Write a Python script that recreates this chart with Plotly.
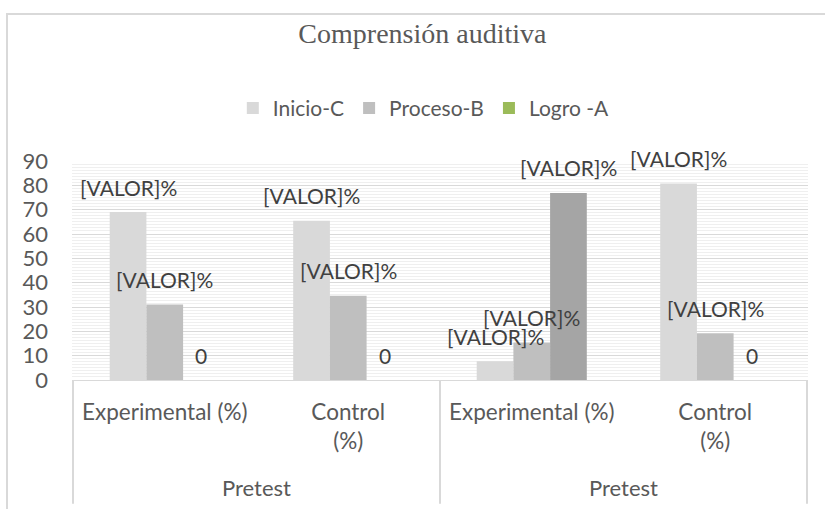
import plotly.graph_objects as go

# ---- data ----
title_text = "Comprensión auditiva"
groups = ["Experimental (%)", "Control<br>(%)", "Experimental (%)\u200b", "Control<br>(%)\u200b"]
phase_labels = ["Pretest", "Pretest"]
phase_members = [[0, 1], [2, 3]]          # category indices belonging to each phase
series_names = ["Inicio-C", "Proceso-B", "Logro -A"]
inicio = [69.0, 65.4, 7.7, 80.8]
proceso = [31.0, 34.6, 15.4, 19.2]
logro = [0.0, 0.0, 76.9, 0.0]
y_ticks = [0, 10, 20, 30, 40, 50, 60, 70, 80, 90]

values = [inicio, proceso, logro]
colors = [
    "#d9d9d9",
    "#bfbfbf",
    ["#9bbb59", "#9bbb59", "#a5a5a5", "#9bbb59"],
]

FONT = "Lato"
TXT = "#595959"
GRID = "#d9d9d9"
BARGAP = 0.4

fig = go.Figure()
for name, vals, col in zip(series_names, values, colors):
    fig.add_trace(go.Bar(
        name=name,
        x=groups,
        y=vals,
        marker=dict(color=col, line=dict(width=0)),
        hoverinfo="skip",
    ))

# data labels, placed at each bar via the category scale
n = len(values)
width = (1 - BARGAP) / n
annotations = []
for k, vals in enumerate(values):
    off = (k - (n - 1) / 2) * width
    for i, v in enumerate(vals):
        annotations.append(dict(
            x=i + off, y=v, xref="x", yref="y",
            text="0" if v == 0 else "[VALOR]%",
            showarrow=False, yshift=25, yanchor="middle",
            font=dict(family=FONT, size=21, color="#404040"),
        ))

# outer category level ("Pretest") and its dividers
shapes = []
for label, members in zip(phase_labels, phase_members):
    annotations.append(dict(
        x=(members[0] + members[-1]) / 2, xref="x", y=-0.493, yref="paper",
        text=label, showarrow=False, yanchor="middle",
        font=dict(family=FONT, size=22, color=TXT),
    ))
bounds = sorted({m[0] - 0.5 for m in phase_members} | {m[-1] + 0.5 for m in phase_members})
for b in bounds:
    shapes.append(dict(type="line", xref="x", yref="paper", x0=b, x1=b, y0=0, y1=-0.565,
                       line=dict(color=GRID, width=2)))

# chart frame
shapes.append(dict(type="rect", xref="paper", yref="paper",
                   x0=-0.0883, x1=1.2, y0=-0.8, y1=1.671,
                   line=dict(color=GRID, width=2), fillcolor="rgba(0,0,0,0)",
                   layer="below"))

fig.update_layout(
    width=825, height=509,
    margin=dict(l=72, r=17, t=161, b=129, autoexpand=False),
    paper_bgcolor="white", plot_bgcolor="white",
    barmode="group", bargap=BARGAP, bargroupgap=0,
    title=dict(text=title_text, x=0.512, xanchor="center", y=0.935, yanchor="middle",
               font=dict(family="Liberation Serif", size=28, color=TXT)),
    legend=dict(orientation="h", x=0.478, xanchor="center", y=1.24, yanchor="middle",
                font=dict(family=FONT, size=21, color=TXT), itemwidth=30,
                traceorder="normal"),
    showlegend=True,
    annotations=annotations,
    shapes=shapes,
)
fig.update_xaxes(
    type="category", showline=True, linecolor=GRID, linewidth=1,
    ticks="", tickfont=dict(family=FONT, size=22.5, color=TXT),
    ticklabelstandoff=12, showgrid=False, automargin=False,
)
fig.update_yaxes(
    range=[0, 90], tickvals=y_ticks, showgrid=True, gridcolor=GRID, gridwidth=1,
    zeroline=False, ticks="", tickfont=dict(family=FONT, size=22, color=TXT),
    ticklabelstandoff=23, automargin=False,
    minor=dict(dtick=1.25, showgrid=True, gridcolor="#efefef", gridwidth=1),
)

fig.write_html("out.html", config={"displayModeBar": False},
               post_script="document.body.style.margin='0';document.body.style.padding='0';")
